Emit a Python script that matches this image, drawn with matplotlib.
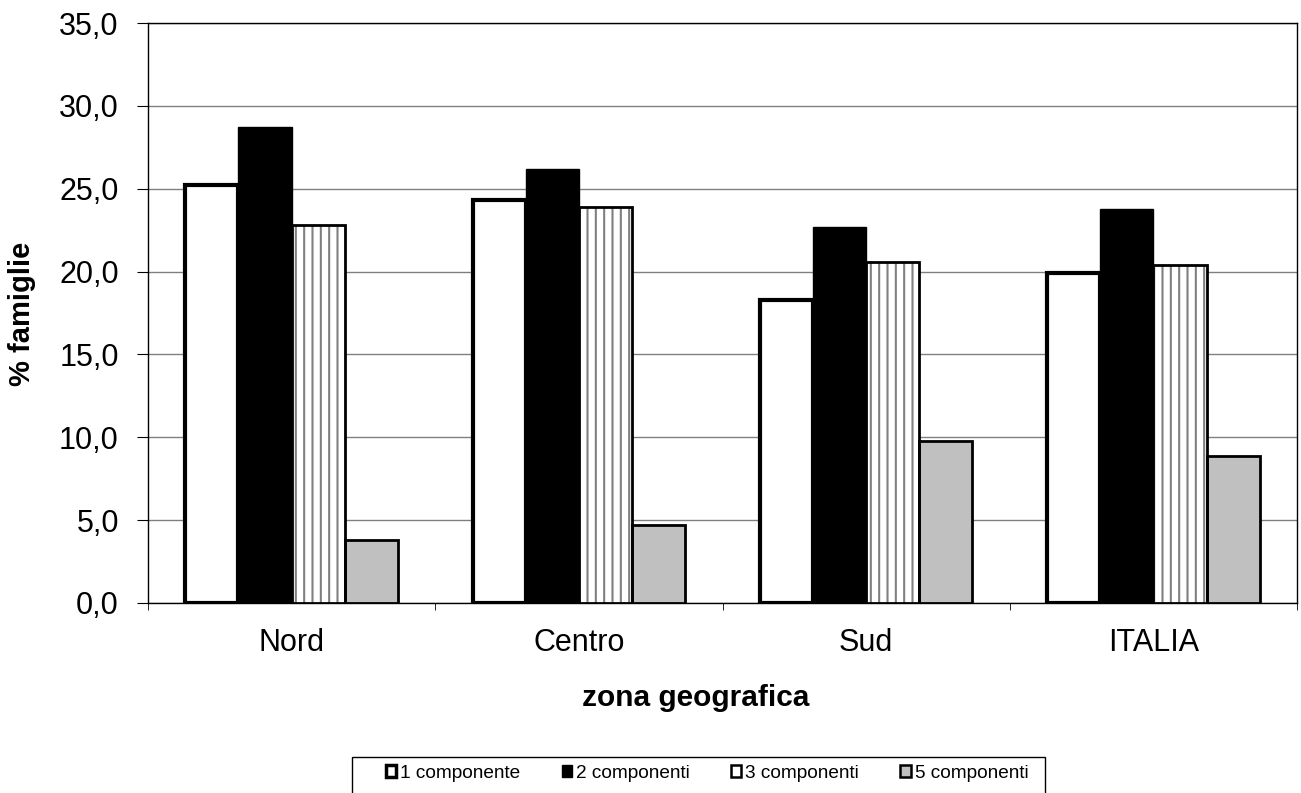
import matplotlib
matplotlib.use("Agg")
import matplotlib.pyplot as plt
from matplotlib.patches import Patch, Rectangle
from matplotlib.ticker import FuncFormatter, FixedLocator
import numpy as np

categories = ["Nord", "Centro", "Sud", "ITALIA"]
series_names = ["1 componente", "2 componenti", "3 componenti", "5 componenti"]
v1 = [25.2, 24.3, 18.3, 19.9]
v2 = [28.7, 26.2, 22.7, 23.8]
v3 = [22.8, 23.9, 20.6, 20.4]
v5 = [3.8, 4.7, 9.8, 8.9]
yticks = [0, 5, 10, 15, 20, 25, 30, 35]

plt.rcParams['font.family'] = ['Liberation Sans', 'DejaVu Sans']
plt.rcParams['hatch.linewidth'] = 1.5

W, H = 1301, 793
fig = plt.figure(figsize=(W/100, H/100), dpi=100)
ax = fig.add_axes([148/W, 1-603/H, (1297-148)/W, (603-23)/H])

x = np.arange(len(categories))
w = 0.185
offs = [-1.5*w, -0.5*w, 0.5*w, 1.5*w]

ax.set_axisbelow(True)
ax.yaxis.grid(True, color='#808080', lw=1.0)

ax.bar(x+offs[0], v1, w, facecolor='white', edgecolor='black', lw=3.0, zorder=2)
ax.bar(x+offs[1], v2, w, facecolor='black', edgecolor='black', lw=1.0, zorder=3)
ax.bar(x+offs[2], v3, w, facecolor='white', edgecolor='#808080', hatch='||', lw=0, zorder=3)
ax.bar(x+offs[2], v3, w, facecolor='none', edgecolor='black', lw=2.0, zorder=4)
ax.bar(x+offs[3], v5, w, facecolor='#c0c0c0', edgecolor='black', lw=2.0, zorder=3)

ax.set_xlim(-0.5, 3.5)
ax.set_ylim(0, 35)
ax.set_yticks(yticks)
ax.yaxis.set_major_formatter(FuncFormatter(lambda v, p: f"{v:.1f}".replace('.', ',')))
ax.tick_params(axis='y', labelsize=22, length=8, direction='out', pad=13)

ax.set_xticks(x)
ax.set_xticklabels(categories, fontsize=22)
ax.xaxis.set_minor_locator(FixedLocator([-0.5, 0.5, 1.5, 2.5, 3.5]))
ax.tick_params(axis='x', which='major', length=0, pad=18)
ax.tick_params(axis='x', which='minor', length=5, direction='out')

for s in ax.spines.values():
    s.set_color('black')
    s.set_linewidth(1.0)

fig.text(22/W, 1-314/H, "% famiglie", rotation=90, ha='center', va='center',
         fontsize=21, fontweight='bold')
fig.text(696/W, 1-698/H, "zona geografica", ha='center', va='center',
         fontsize=21.5, fontweight='bold')

# legend frame
fig.add_artist(Rectangle((352/W, 1-800/H), (1045-352)/W, (800-757)/H,
                         transform=fig.transFigure, facecolor='white',
                         edgecolor='black', lw=1.0))

handles = [
    Patch(facecolor='white', edgecolor='black', lw=2.5),
    Patch(facecolor='black', edgecolor='black', lw=1.0),
    Patch(facecolor='white', edgecolor='black', lw=1.8),
    Patch(facecolor='#c0c0c0', edgecolor='black', lw=1.8),
]
leg = fig.legend(handles, series_names, loc='center left', bbox_to_anchor=(386/W, 1-773/H),
                 ncol=4, fontsize=13.7, frameon=False,
                 handlelength=0.55, handleheight=0.55, handletextpad=0.2, columnspacing=2.17,
                 borderpad=0, borderaxespad=0)

fig.savefig("out.png", dpi=100)
